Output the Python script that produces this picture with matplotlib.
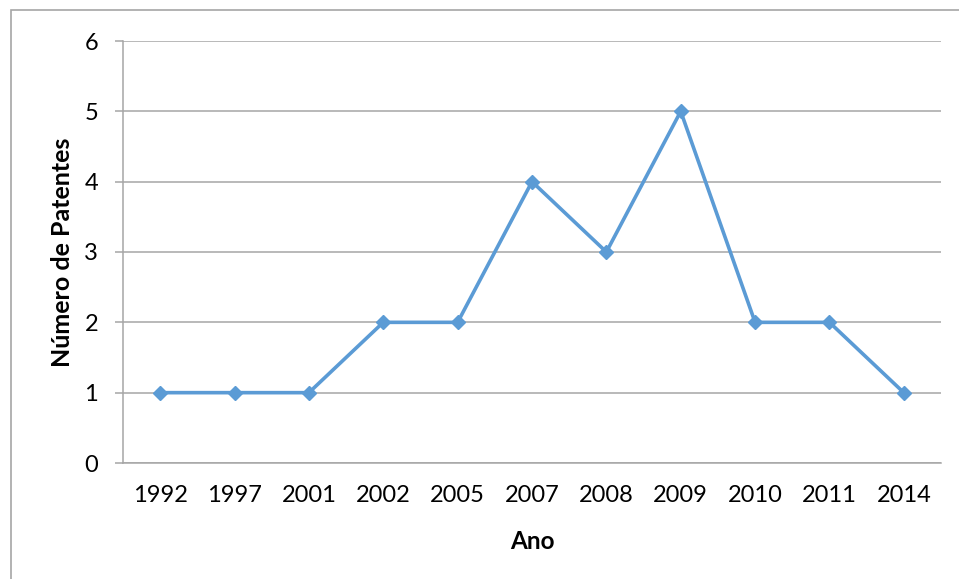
import matplotlib.pyplot as plt
from matplotlib.patches import Rectangle

# patent counts per year
anos = ["1992", "1997", "2001", "2002", "2005", "2007", "2008", "2009", "2010", "2011", "2014"]
patentes = [1, 1, 1, 2, 2, 4, 3, 5, 2, 2, 1]
y_ticks = [0, 1, 2, 3, 4, 5, 6]

BLUE = "#5B9BD5"
GRID = "#A6A6A6"

plt.rcParams["font.family"] = ["Lato", "DejaVu Sans"]

fig = plt.figure(figsize=(9.59, 5.79), dpi=100)
# outer chart frame, running off the right and bottom edges
fig.patches.append(Rectangle((11 / 959, -0.05), 1.0, 1 - 10 / 579 + 0.05,
                             transform=fig.transFigure, fill=False,
                             edgecolor=GRID, linewidth=1.2))

ax = fig.add_axes([123 / 959, 1 - 463 / 579, (941 - 123) / 959, (463 - 41) / 579])

x = list(range(len(anos)))
ax.plot(x, patentes, color=BLUE, linewidth=2.6, marker="D", markersize=7.5,
        markerfacecolor=BLUE, markeredgecolor=BLUE, zorder=3)

ax.set_xlim(-0.5, len(anos) - 0.5)
ax.set_ylim(0, 6)
ax.set_yticks(y_ticks)
ax.set_xticks(x)
ax.set_xticklabels(anos)

ax.grid(axis="y", color=GRID, linewidth=1.1)
ax.set_axisbelow(True)
for side in ("top", "right"):
    ax.spines[side].set_visible(False)
for side in ("left", "bottom"):
    ax.spines[side].set_color(GRID)
    ax.spines[side].set_linewidth(1.1)

ax.tick_params(axis="y", length=6, width=1.1, color=GRID, labelsize=17, pad=12)
ax.tick_params(axis="x", length=0, labelsize=17, pad=16)

ax.set_xlabel("Ano", fontsize=17.5, fontweight="bold", labelpad=17)
ax.set_ylabel("Número de Patentes", fontsize=18, fontweight="bold", labelpad=7)

fig.savefig("out.png", dpi=100)
